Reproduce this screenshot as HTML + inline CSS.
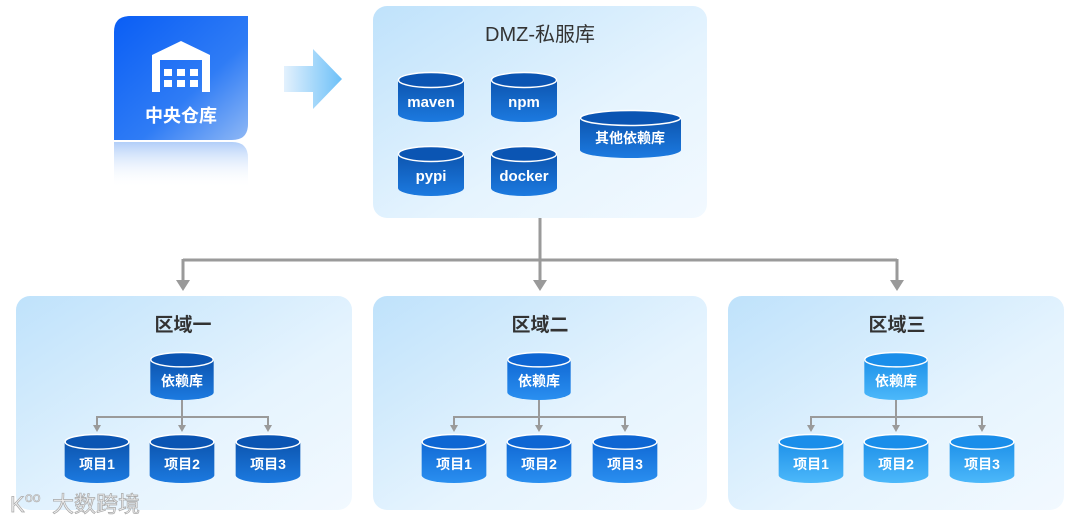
<!DOCTYPE html>
<html><head><meta charset="utf-8"><style>
html,body{margin:0;padding:0;background:#fff;}
svg{display:block;font-family:"Liberation Sans","Noto Sans CJK SC",sans-serif;}
</style></head><body>
<svg width="1080" height="523" viewBox="0 0 1080 523" xmlns="http://www.w3.org/2000/svg">
<defs>
<linearGradient id="bg" x1="0" y1="0" x2="1" y2="1"><stop offset="0" stop-color="#bfe2fb"/><stop offset="0.6" stop-color="#e6f4fe"/><stop offset="1" stop-color="#f2f9ff"/></linearGradient>
<linearGradient id="cw" x1="0" y1="0" x2="1" y2="1"><stop offset="0" stop-color="#0a5ef5"/><stop offset="0.6" stop-color="#2f7cf5"/><stop offset="1" stop-color="#8fb8f5"/></linearGradient>
<linearGradient id="refl" x1="0" y1="0" x2="0" y2="1"><stop offset="0" stop-color="#9ec2f7" stop-opacity="0.8"/><stop offset="1" stop-color="#ffffff" stop-opacity="0"/></linearGradient>
<linearGradient id="arr" x1="0" y1="0" x2="1" y2="0"><stop offset="0" stop-color="#e3f1fd"/><stop offset="1" stop-color="#6cc0f8"/></linearGradient>
<linearGradient id="gA" x1="0" y1="0" x2="0" y2="1"><stop offset="0" stop-color="#0a4ea6"/><stop offset="1" stop-color="#1c7ae0"/></linearGradient>
<linearGradient id="gB" x1="0" y1="0" x2="0" y2="1"><stop offset="0" stop-color="#0c62cf"/><stop offset="1" stop-color="#2a8ff0"/></linearGradient>
<linearGradient id="gC" x1="0" y1="0" x2="0" y2="1"><stop offset="0" stop-color="#168ae6"/><stop offset="1" stop-color="#4cb8fa"/></linearGradient>
<symbol id="cA" viewBox="0 0 66 50" overflow="visible"><path d="M0,8 A33,8 0 0 1 66,8 V42 A33,8 0 0 1 0,42 Z" fill="url(#gA)"/><ellipse cx="33" cy="8" rx="32.5" ry="7.5" fill="#0b55b3" stroke="#fff" stroke-width="1.5"/></symbol>
<symbol id="cB" viewBox="0 0 66 50" overflow="visible"><path d="M0,8 A33,8 0 0 1 66,8 V42 A33,8 0 0 1 0,42 Z" fill="url(#gB)"/><ellipse cx="33" cy="8" rx="32.5" ry="7.5" fill="#0e66d3" stroke="#fff" stroke-width="1.5"/></symbol>
<symbol id="cC" viewBox="0 0 66 50" overflow="visible"><path d="M0,8 A33,8 0 0 1 66,8 V42 A33,8 0 0 1 0,42 Z" fill="url(#gC)"/><ellipse cx="33" cy="8" rx="32.5" ry="7.5" fill="#1a8eea" stroke="#fff" stroke-width="1.5"/></symbol>
<symbol id="cW" viewBox="0 0 101 48" overflow="visible"><path d="M0,8 A50.5,8 0 0 1 101,8 V40 A50.5,8 0 0 1 0,40 Z" fill="url(#gA)"/><ellipse cx="50.5" cy="8" rx="50" ry="7.5" fill="#0b55b3" stroke="#fff" stroke-width="1.5"/></symbol>
</defs>

<!-- central warehouse -->
<path d="M130,16 H248 V124 Q248,140 232,140 H114 V32 Q114,16 130,16 Z" fill="url(#cw)"/>
<path d="M114,142 H232 Q248,142 248,158 V188 H114 Z" fill="url(#refl)"/>
<g fill="#fff">
<path d="M152,55 L181,41 L210,55 V92 H202 V60 H160 V92 H152 Z"/>
<rect x="164" y="69" width="8" height="7"/><rect x="177" y="69" width="8" height="7"/><rect x="190" y="69" width="8" height="7"/>
<rect x="164" y="80" width="8" height="7"/><rect x="177" y="80" width="8" height="7"/><rect x="190" y="80" width="8" height="7"/>
</g>
<text x="181" y="122" font-size="18" font-weight="bold" fill="#fff" text-anchor="middle">中央仓库</text>
<path d="M284,66 H313 V49 L342,79 L313,109 V92 H284 Z" fill="url(#arr)"/>

<!-- DMZ -->
<rect x="373" y="6" width="334" height="212" rx="14" fill="url(#bg)"/>
<text x="540" y="41" font-size="20" fill="#333" text-anchor="middle">DMZ-私服库</text>
<use href="#cA" x="398" y="72" width="66" height="50"/>
<use href="#cA" x="491" y="72" width="66" height="50"/>
<use href="#cA" x="398" y="146" width="66" height="50"/>
<use href="#cA" x="491" y="146" width="66" height="50"/>
<use href="#cW" x="580" y="110" width="101" height="48"/>
<g fill="#fff" font-size="15" font-weight="bold" text-anchor="middle">
<text x="431" y="107">maven</text><text x="524" y="107">npm</text>
<text x="431" y="181">pypi</text><text x="524" y="181">docker</text>
<text x="630" y="143" font-size="14">其他依赖库</text>
</g>

<!-- main connectors -->
<g stroke="#9a9a9a" stroke-width="3" fill="none">
<path d="M540,218 V260"/>
<path d="M183,260 H897"/>
<path d="M183,259 V282"/>
<path d="M540,260 V282"/>
<path d="M897,259 V282"/>
</g>
<g fill="#9a9a9a">
<path d="M176,280 H190 L183,291 Z"/><path d="M533,280 H547 L540,291 Z"/><path d="M890,280 H904 L897,291 Z"/>
</g>

<!-- regions -->
<g>
<rect x="16" y="296" width="336" height="214" rx="14" fill="url(#bg)"/>
<rect x="373" y="296" width="334" height="214" rx="14" fill="url(#bg)"/>
<rect x="728" y="296" width="336" height="214" rx="14" fill="url(#bg)"/>
</g>
<g font-size="19" font-weight="bold" fill="#333" text-anchor="middle">
<text x="183" y="331">区域一</text><text x="540" y="331">区域二</text><text x="897" y="331">区域三</text>
</g>
<g stroke="#9a9a9a" stroke-width="2" fill="none">
<path d="M182,400 V417 M97,417 H268 M97,416 V426 M182,417 V426 M268,416 V426"/>
<path d="M539,400 V417 M454,417 H625 M454,416 V426 M539,417 V426 M625,416 V426"/>
<path d="M896,400 V417 M811,417 H982 M811,416 V426 M896,417 V426 M982,416 V426"/>
</g>
<g fill="#9a9a9a">
<path d="M93,425 H101 L97,432 Z"/><path d="M178,425 H186 L182,432 Z"/><path d="M264,425 H272 L268,432 Z"/>
<path d="M450,425 H458 L454,432 Z"/><path d="M535,425 H543 L539,432 Z"/><path d="M621,425 H629 L625,432 Z"/>
<path d="M807,425 H815 L811,432 Z"/><path d="M892,425 H900 L896,432 Z"/><path d="M978,425 H986 L982,432 Z"/>
</g>
<use href="#cA" x="149" y="352" width="66" height="48"/>
<use href="#cA" x="64" y="434" width="66" height="49"/><use href="#cA" x="149" y="434" width="66" height="49"/><use href="#cA" x="235" y="434" width="66" height="49"/>
<use href="#cB" x="506" y="352" width="66" height="48"/>
<use href="#cB" x="421" y="434" width="66" height="49"/><use href="#cB" x="506" y="434" width="66" height="49"/><use href="#cB" x="592" y="434" width="66" height="49"/>
<use href="#cC" x="863" y="352" width="66" height="48"/>
<use href="#cC" x="778" y="434" width="66" height="49"/><use href="#cC" x="863" y="434" width="66" height="49"/><use href="#cC" x="949" y="434" width="66" height="49"/>
<g fill="#fff" font-size="14" font-weight="bold" text-anchor="middle">
<text x="182" y="386">依赖库</text><text x="539" y="386">依赖库</text><text x="896" y="386">依赖库</text>
<text x="97" y="469">项目1</text><text x="182" y="469">项目2</text><text x="268" y="469">项目3</text>
<text x="454" y="469">项目1</text><text x="539" y="469">项目2</text><text x="625" y="469">项目3</text>
<text x="811" y="469">项目1</text><text x="896" y="469">项目2</text><text x="982" y="469">项目3</text>
</g>
<!-- watermark -->
<text x="10" y="512" font-size="22" fill="#eeeeee" stroke="#a8a8a8" stroke-width="0.7">K</text>
<text x="25" y="502" font-size="14" fill="#eeeeee" stroke="#a8a8a8" stroke-width="0.6">oo</text>
<text x="52" y="512" font-size="22" fill="#eeeeee" stroke="#a8a8a8" stroke-width="0.7">大数跨境</text>
</svg>
</body></html>
